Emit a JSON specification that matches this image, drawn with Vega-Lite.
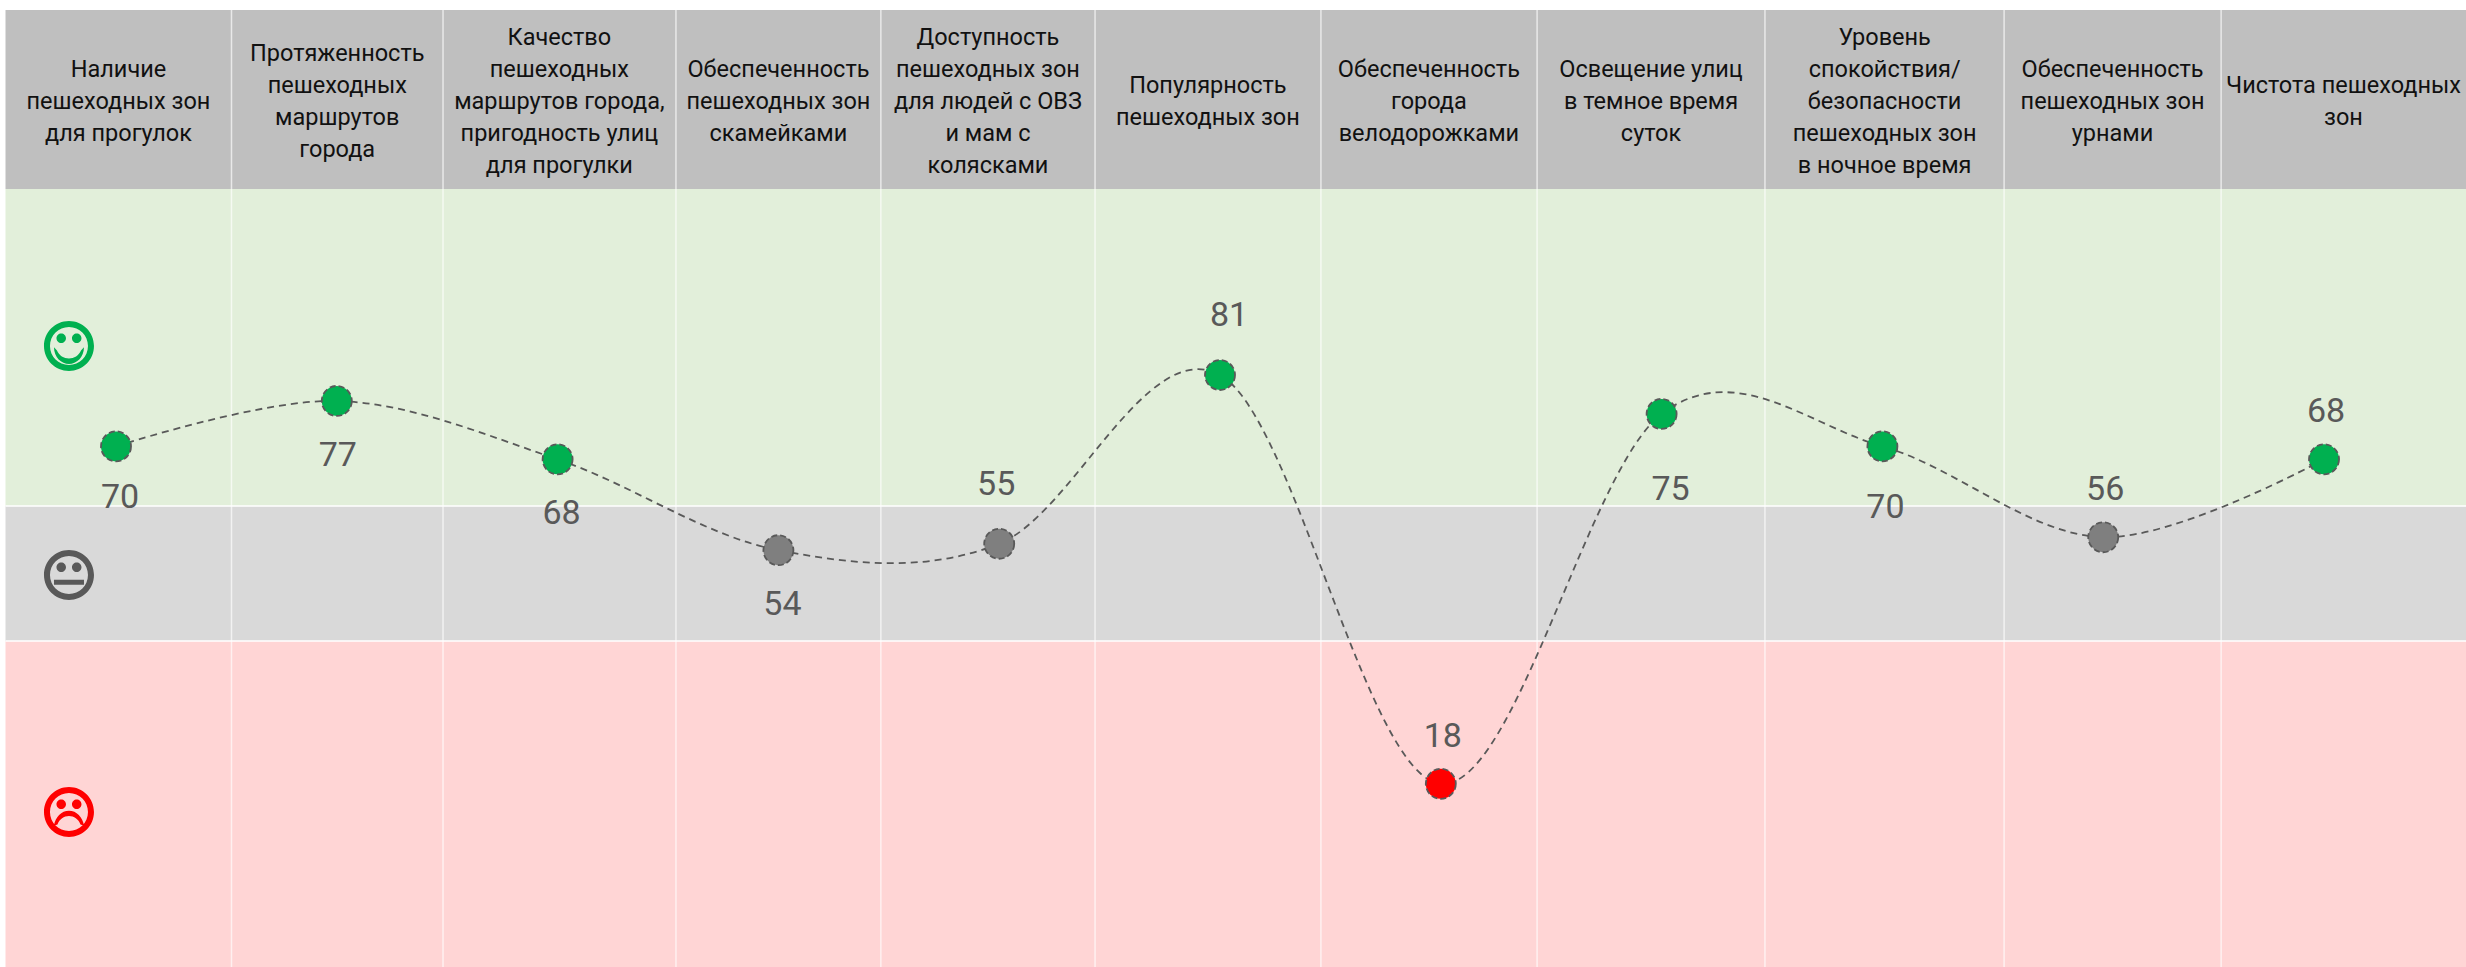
{"$schema":"https://vega.github.io/schema/vega-lite/v6.json","width":2466,"height":967,"padding":0,"autosize":{"type":"none"},"background":"white","config":{"view":{"stroke":null},"axis":{"disable":true}},
"datasets":{
"columns":[
{"n":1,"label":"Наличие\nпешеходных зон\nдля прогулок","lines":3,"value":70,"status":"good","start":0.4995,"end":1.523,"mid":1.011},
{"n":2,"label":"Протяженность\nпешеходных\nмаршрутов\nгорода","lines":4,"value":77,"status":"good","start":1.523,"end":2.481,"mid":2.002},
{"n":3,"label":"Качество\nпешеходных\nмаршрутов города,\nпригодность улиц\nдля прогулки","lines":5,"value":68,"status":"good","start":2.481,"end":3.536,"mid":3.008},
{"n":4,"label":"Обеспеченность\nпешеходных зон\nскамейками","lines":3,"value":54,"status":"neutral","start":3.536,"end":4.464,"mid":4.0},
{"n":5,"label":"Доступность\nпешеходных зон\nдля людей с ОВЗ\nи мам с\nколясками","lines":5,"value":55,"status":"neutral","start":4.464,"end":5.434,"mid":4.949},
{"n":6,"label":"Популярность\nпешеходных зон","lines":2,"value":81,"status":"good","start":5.434,"end":6.457,"mid":5.945},
{"n":7,"label":"Обеспеченность\nгорода\nвелодорожками","lines":3,"value":18,"status":"bad","start":6.457,"end":7.436,"mid":6.946},
{"n":8,"label":"Освещение улиц\nв темное время\nсуток","lines":3,"value":75,"status":"good","start":7.436,"end":8.468,"mid":7.952},
{"n":9,"label":"Уровень\nспокойствия/\nбезопасности\nпешеходных зон\nв ночное время","lines":5,"value":70,"status":"good","start":8.468,"end":9.551,"mid":9.01},
{"n":10,"label":"Обеспеченность\nпешеходных зон\nурнами","lines":3,"value":56,"status":"neutral","start":9.551,"end":10.534,"mid":10.042},
{"n":11,"label":"Чистота пешеходных\nзон","lines":2,"value":68,"status":"good","start":10.534,"end":11.643,"mid":11.088}],
"zones":[
{"zone":"header","top":137.24,"bottom":109.66,"left":0.4995,"right":11.643},
{"zone":"good","top":109.66,"bottom":60.81,"left":0.4995,"right":11.643},
{"zone":"neutral","top":60.81,"bottom":40.01,"left":0.4995,"right":11.643},
{"zone":"bad","top":40.01,"bottom":-10.22,"left":0.4995,"right":11.643}],
"moods":[
{"mood":"good","n":0.787,"level":85.45},
{"mood":"neutral","n":0.787,"level":50.18},
{"mood":"bad","n":0.787,"level":13.65}]},
"resolve":{"scale":{"fill":"independent","shape":"independent"}},
"encoding":{"x":{"type":"quantitative","scale":{"domain":[0.4746,11.643],"nice":false,"zero":false},"axis":null},"y":{"type":"quantitative","scale":{"domain":[-10.22,138.78],"nice":false,"zero":false},"axis":null}},
"layer":[
{"data":{"name":"zones"},"mark":{"type":"rect"},"encoding":{"x":{"field":"left","type":"quantitative"},"x2":{"field":"right"},"y":{"field":"top","type":"quantitative"},"y2":{"field":"bottom"},"fill":{"field":"zone","type":"nominal","legend":null,"scale":{"domain":["header","good","neutral","bad"],"range":["#BFBFBF","#E2EFDA","#D9D9D9","#FFD5D5"]}}}},
{"data":{"name":"zones"},"transform":[{"filter":"datum.zone==='neutral'||datum.zone==='bad'"}],"mark":{"type":"rule","color":"#FFFFFF","strokeWidth":1.5},"encoding":{"x":{"field":"left","type":"quantitative"},"x2":{"field":"right"},"y":{"field":"top","type":"quantitative"}}},
{"data":{"name":"columns"},"transform":[{"filter":"datum.n>1"}],"mark":{"type":"rule","color":"#FFFFFF","strokeWidth":1.5,"opacity":0.65},"encoding":{"x":{"field":"start","type":"quantitative"},"y":{"datum":137.24},"y2":{"datum":-10.22}}},
{"data":{"name":"columns"},"transform":[{"filter":"datum.lines===2"}],"mark":{"type":"text","font":"Roboto","fontSize":23.5,"lineHeight":32,"lineBreak":"\n","color":"#111111","align":"center","baseline":"middle","dy":-16},"encoding":{"x":{"field":"mid","type":"quantitative"},"y":{"datum":123.05},"text":{"field":"label"}}},
{"data":{"name":"columns"},"transform":[{"filter":"datum.lines===3"}],"mark":{"type":"text","font":"Roboto","fontSize":23.5,"lineHeight":32,"lineBreak":"\n","color":"#111111","align":"center","baseline":"middle","dy":-32},"encoding":{"x":{"field":"mid","type":"quantitative"},"y":{"datum":123.05},"text":{"field":"label"}}},
{"data":{"name":"columns"},"transform":[{"filter":"datum.lines===4"}],"mark":{"type":"text","font":"Roboto","fontSize":23.5,"lineHeight":32,"lineBreak":"\n","color":"#111111","align":"center","baseline":"middle","dy":-48},"encoding":{"x":{"field":"mid","type":"quantitative"},"y":{"datum":123.05},"text":{"field":"label"}}},
{"data":{"name":"columns"},"transform":[{"filter":"datum.lines===5"}],"mark":{"type":"text","font":"Roboto","fontSize":23.5,"lineHeight":32,"lineBreak":"\n","color":"#111111","align":"center","baseline":"middle","dy":-64},"encoding":{"x":{"field":"mid","type":"quantitative"},"y":{"datum":123.05},"text":{"field":"label"}}},
{"data":{"name":"moods"},"mark":{"type":"point","filled":true,"size":2500,"opacity":1},"encoding":{"x":{"field":"n","type":"quantitative"},"y":{"field":"level","type":"quantitative"},"shape":{"field":"mood","type":"nominal","legend":null,"scale":{"domain":["good","neutral","bad"],"range":[
"M0 -1 C0.552 -1 1 -0.552 1 0 C1 0.552 0.552 1 0 1 C-0.552 1 -1 0.552 -1 0 C-1 -0.552 -0.552 -1 0 -1 Z M0 -0.76 C-0.42 -0.76 -0.76 -0.42 -0.76 0 C-0.76 0.42 -0.42 0.76 0 0.76 C0.42 0.76 0.76 0.42 0.76 0 C0.76 -0.42 0.42 -0.76 0 -0.76 Z M-0.31 -0.5 C-0.205 -0.5 -0.12 -0.415 -0.12 -0.31 C-0.12 -0.205 -0.205 -0.12 -0.31 -0.12 C-0.415 -0.12 -0.5 -0.205 -0.5 -0.31 C-0.5 -0.415 -0.415 -0.5 -0.31 -0.5 Z M0.31 -0.5 C0.415 -0.5 0.5 -0.415 0.5 -0.31 C0.5 -0.205 0.415 -0.12 0.31 -0.12 C0.205 -0.12 0.12 -0.205 0.12 -0.31 C0.12 -0.415 0.205 -0.5 0.31 -0.5 Z M0.6 0.05 C0.6 0.45 0.3 0.72 0 0.72 C-0.3 0.72 -0.6 0.45 -0.6 0.05 L-0.48 0.18 C-0.4 0.38 -0.2 0.5 0 0.5 C0.2 0.5 0.4 0.38 0.48 0.18 Z",
"M0 -1 C0.552 -1 1 -0.552 1 0 C1 0.552 0.552 1 0 1 C-0.552 1 -1 0.552 -1 0 C-1 -0.552 -0.552 -1 0 -1 Z M0 -0.76 C-0.42 -0.76 -0.76 -0.42 -0.76 0 C-0.76 0.42 -0.42 0.76 0 0.76 C0.42 0.76 0.76 0.42 0.76 0 C0.76 -0.42 0.42 -0.76 0 -0.76 Z M-0.31 -0.5 C-0.205 -0.5 -0.12 -0.415 -0.12 -0.31 C-0.12 -0.205 -0.205 -0.12 -0.31 -0.12 C-0.415 -0.12 -0.5 -0.205 -0.5 -0.31 C-0.5 -0.415 -0.415 -0.5 -0.31 -0.5 Z M0.31 -0.5 C0.415 -0.5 0.5 -0.415 0.5 -0.31 C0.5 -0.205 0.415 -0.12 0.31 -0.12 C0.205 -0.12 0.12 -0.205 0.12 -0.31 C0.12 -0.415 0.205 -0.5 0.31 -0.5 Z M-0.6 0.19 L0.6 0.19 L0.6 0.39 L-0.6 0.39 Z",
"M0 -1 C0.552 -1 1 -0.552 1 0 C1 0.552 0.552 1 0 1 C-0.552 1 -1 0.552 -1 0 C-1 -0.552 -0.552 -1 0 -1 Z M0 -0.76 C-0.42 -0.76 -0.76 -0.42 -0.76 0 C-0.76 0.42 -0.42 0.76 0 0.76 C0.42 0.76 0.76 0.42 0.76 0 C0.76 -0.42 0.42 -0.76 0 -0.76 Z M-0.31 -0.5 C-0.205 -0.5 -0.12 -0.415 -0.12 -0.31 C-0.12 -0.205 -0.205 -0.12 -0.31 -0.12 C-0.415 -0.12 -0.5 -0.205 -0.5 -0.31 C-0.5 -0.415 -0.415 -0.5 -0.31 -0.5 Z M0.31 -0.5 C0.415 -0.5 0.5 -0.415 0.5 -0.31 C0.5 -0.205 0.415 -0.12 0.31 -0.12 C0.205 -0.12 0.12 -0.205 0.12 -0.31 C0.12 -0.415 0.205 -0.5 0.31 -0.5 Z M-0.6 0.55 C-0.55 0.2 -0.3 -0.05 0 -0.05 C0.3 -0.05 0.55 0.2 0.6 0.55 L0.46 0.5 C0.38 0.28 0.2 0.16 0 0.16 C-0.2 0.16 -0.38 0.28 -0.46 0.5 Z"]}},"fill":{"field":"mood","type":"nominal","legend":null,"scale":{"domain":["good","neutral","bad"],"range":["#00B050","#595959","#FF0000"]}}}},
{"data":{"name":"columns"},"mark":{"type":"line","interpolate":"cardinal","tension":0,"color":"#595959","strokeWidth":1.8,"strokeDash":[7,5]},"encoding":{"x":{"field":"n","type":"quantitative"},"y":{"field":"value","type":"quantitative"}}},
{"data":{"name":"columns"},"mark":{"type":"point","shape":"circle","filled":true,"size":900,"opacity":1,"stroke":"#595959","strokeWidth":1.8,"strokeDash":[6,3]},"encoding":{"x":{"field":"n","type":"quantitative"},"y":{"field":"value","type":"quantitative"},"fill":{"field":"status","type":"nominal","legend":null,"scale":{"domain":["good","neutral","bad"],"range":["#00B050","#7F7F7F","#FF0000"]}}}},
{"data":{"name":"columns"},"transform":[{"filter":{"field":"n","oneOf":[1]}}],"mark":{"type":"text","font":"Roboto","fontSize":34,"color":"#595959","align":"center","baseline":"middle","dx":4,"dy":52},"encoding":{"x":{"field":"n","type":"quantitative"},"y":{"field":"value","type":"quantitative"},"text":{"field":"value","type":"quantitative"}}},
{"data":{"name":"columns"},"transform":[{"filter":{"field":"n","oneOf":[2]}}],"mark":{"type":"text","font":"Roboto","fontSize":34,"color":"#595959","align":"center","baseline":"middle","dx":1,"dy":55},"encoding":{"x":{"field":"n","type":"quantitative"},"y":{"field":"value","type":"quantitative"},"text":{"field":"value","type":"quantitative"}}},
{"data":{"name":"columns"},"transform":[{"filter":{"field":"n","oneOf":[3,4]}}],"mark":{"type":"text","font":"Roboto","fontSize":34,"color":"#595959","align":"center","baseline":"middle","dx":4,"dy":55},"encoding":{"x":{"field":"n","type":"quantitative"},"y":{"field":"value","type":"quantitative"},"text":{"field":"value","type":"quantitative"}}},
{"data":{"name":"columns"},"transform":[{"filter":{"field":"n","oneOf":[5]}}],"mark":{"type":"text","font":"Roboto","fontSize":34,"color":"#595959","align":"center","baseline":"middle","dx":-3,"dy":-59},"encoding":{"x":{"field":"n","type":"quantitative"},"y":{"field":"value","type":"quantitative"},"text":{"field":"value","type":"quantitative"}}},
{"data":{"name":"columns"},"transform":[{"filter":{"field":"n","oneOf":[6]}}],"mark":{"type":"text","font":"Roboto","fontSize":34,"color":"#595959","align":"center","baseline":"middle","dx":9,"dy":-59},"encoding":{"x":{"field":"n","type":"quantitative"},"y":{"field":"value","type":"quantitative"},"text":{"field":"value","type":"quantitative"}}},
{"data":{"name":"columns"},"transform":[{"filter":{"field":"n","oneOf":[7,10,11]}}],"mark":{"type":"text","font":"Roboto","fontSize":34,"color":"#595959","align":"center","baseline":"middle","dx":2,"dy":-47},"encoding":{"x":{"field":"n","type":"quantitative"},"y":{"field":"value","type":"quantitative"},"text":{"field":"value","type":"quantitative"}}},
{"data":{"name":"columns"},"transform":[{"filter":{"field":"n","oneOf":[8]}}],"mark":{"type":"text","font":"Roboto","fontSize":34,"color":"#595959","align":"center","baseline":"middle","dx":9,"dy":76},"encoding":{"x":{"field":"n","type":"quantitative"},"y":{"field":"value","type":"quantitative"},"text":{"field":"value","type":"quantitative"}}},
{"data":{"name":"columns"},"transform":[{"filter":{"field":"n","oneOf":[9]}}],"mark":{"type":"text","font":"Roboto","fontSize":34,"color":"#595959","align":"center","baseline":"middle","dx":3,"dy":62},"encoding":{"x":{"field":"n","type":"quantitative"},"y":{"field":"value","type":"quantitative"},"text":{"field":"value","type":"quantitative"}}}
]}
